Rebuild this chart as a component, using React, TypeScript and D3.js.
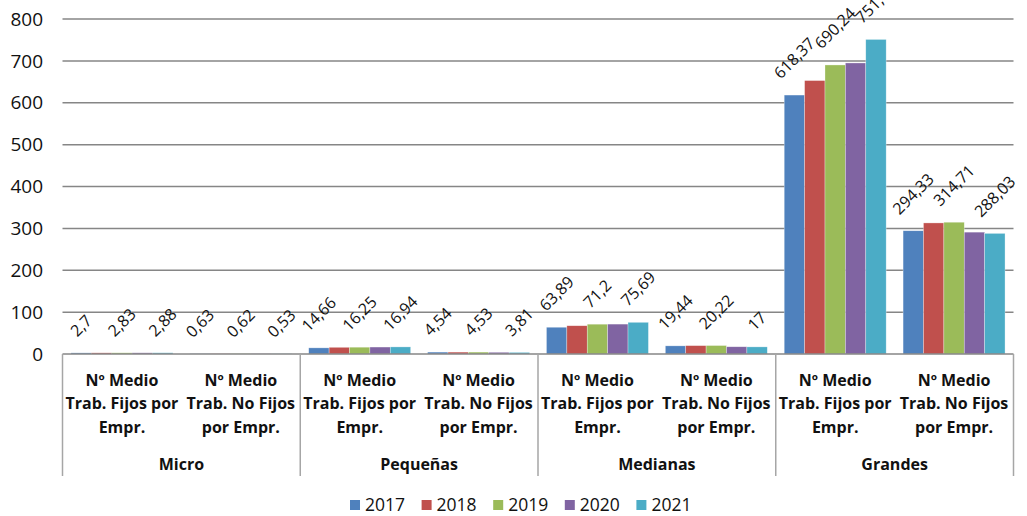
import { scaleBand, scaleLinear } from "d3";

const groups = ["Micro", "Pequeñas", "Medianas", "Grandes"];
const subLabels = [
  ["Nº Medio", "Trab. Fijos por", "Empr."],
  ["Nº Medio", "Trab. No Fijos", "por Empr."],
];
const years = ["2017", "2018", "2019", "2020", "2021"];
const colors = ["#4F81BD", "#C0504D", "#9BBB59", "#8064A2", "#4BACC6"];

// order: Micro F, Micro NF, Peq F, Peq NF, Med F, Med NF, Gra F, Gra NF
const v2017 = [2.7, 0.63, 14.66, 4.54, 63.89, 19.44, 618.37, 294.33];
const v2018 = [2.78, 0.62, 16.0, 4.5, 67.5, 20.0, 653, 313];
const v2019 = [2.83, 0.62, 16.25, 4.53, 71.2, 20.22, 690.24, 314.71];
const v2020 = [2.86, 0.58, 16.6, 4.1, 71.4, 17.3, 695, 291];
const v2021 = [2.88, 0.53, 16.94, 3.81, 75.69, 17, 751.18, 288.03];
const series = [v2017, v2018, v2019, v2020, v2021];
const labelledYears = [0, 2, 4];
const yTicks = [0, 100, 200, 300, 400, 500, 600, 700, 800];

const FONT = "'Open Sans', 'Noto Sans', sans-serif";

let ctx: CanvasRenderingContext2D | null = null;
function textWidth(s: string, size: number) {
  if (!ctx) ctx = document.createElement("canvas").getContext("2d");
  if (!ctx) return s.length * size * 0.55;
  ctx.font = `${size}px "Open Sans"`;
  return ctx.measureText(s).width;
}

const fmt = (v: number) => String(v).replace(".", ",");

export default function App() {
  const width = 1027;
  const height = 516;
  const left = 62.5;
  const right = 1013.5;
  const y = scaleLinear().domain([0, 800]).range([354, 19]);
  const xGroup = scaleBand<string>().domain(groups).range([left, right]);
  const xSub = scaleBand<number>().domain([0, 1]).range([0, xGroup.bandwidth()]);
  const xBar = scaleBand<string>()
    .domain(years)
    .range([0, xSub.bandwidth()])
    .paddingOuter(0.415);

  const labelSize = 16;

  return (
    <svg
      width={width}
      height={height}
      style={{ position: "absolute", left: 0, top: 0, background: "#fff" }}
      fontFamily={FONT}
    >
      {/* gridlines */}
      {yTicks.map((t) => (
        <g key={t}>
          {t > 0 && (
            <line x1={left} x2={right} y1={y(t)} y2={y(t)} stroke="#868686" strokeWidth={1.5} />
          )}
          <text x={43} y={y(t)} dy="0.35em" textAnchor="end" fontSize={19} fill="#111">
            {t}
          </text>
        </g>
      ))}

      {/* bars */}
      {groups.map((g, gi) =>
        [0, 1].map((si) => {
          const idx = gi * 2 + si;
          const x0 = (xGroup(g) ?? 0) + (xSub(si) ?? 0);
          return (
            <g key={`${g}-${si}`}>
              {years.map((yr, yi) => {
                const v = series[yi][idx];
                return (
                  <rect
                    key={yr}
                    x={x0 + (xBar(yr) ?? 0)}
                    y={y(v)}
                    width={xBar.bandwidth()}
                    height={y(0) - y(v)}
                    fill={colors[yi]}
                    stroke="#ffffff"
                    strokeOpacity={0.5}
                    strokeWidth={0.6}
                  />
                );
              })}
            </g>
          );
        })
      )}

      {/* baseline + separators */}
      <line x1={left} x2={right} y1={y(0)} y2={y(0)} stroke="#868686" strokeWidth={1.5} />
      {[...groups.map((g) => xGroup(g) ?? 0), right].map((x, i) => (
        <line key={i} x1={x} x2={x} y1={y(0)} y2={476} stroke="#a6a6a6" strokeWidth={1.5} />
      ))}

      {/* data labels */}
      {groups.map((g, gi) =>
        [0, 1].map((si) => {
          const idx = gi * 2 + si;
          const x0 = (xGroup(g) ?? 0) + (xSub(si) ?? 0);
          return labelledYears.map((yi) => {
            const v = series[yi][idx];
            const s = fmt(v);
            const w = textWidth(s, labelSize);
            const half = ((w + labelSize * 0.75) * 0.7071) / 2;
            const cx = x0 + (xBar(years[yi]) ?? 0) + xBar.bandwidth() / 2;
            const cy = y(v) - 15 - half;
            return (
              <text
                key={`${idx}-${yi}`}
                x={cx}
                y={cy}
                dy="0.35em"
                textAnchor="middle"
                fontSize={labelSize}
                fill="#111"
                transform={`rotate(-45 ${cx} ${cy})`}
              >
                {s}
              </text>
            );
          });
        })
      )}

      {/* category labels */}
      {groups.map((g) => {
        const gx = xGroup(g) ?? 0;
        return (
          <g key={g}>
            {[0, 1].map((si) => {
              const cx = gx + (xSub(si) ?? 0) + xSub.bandwidth() / 2;
              return subLabels[si].map((line, li) => (
                <text
                  key={`${si}-${li}`}
                  x={cx}
                  y={380 + li * 23.5}
                  dy="0.35em"
                  textAnchor="middle"
                  fontSize={16}
                  fontWeight="bold"
                  fill="#111"
                >
                  {line}
                </text>
              ));
            })}
            <text
              x={gx + xGroup.bandwidth() / 2}
              y={464}
              dy="0.35em"
              textAnchor="middle"
              fontSize={16}
              fontWeight="bold"
              fill="#111"
            >
              {g}
            </text>
          </g>
        );
      })}

      {/* legend */}
      {years.map((yr, i) => {
        const lx = 350 + i * 71.6;
        return (
          <g key={yr}>
            <rect x={lx} y={500} width={10} height={10} fill={colors[i]} />
            <text x={lx + 15} y={505} dy="0.35em" fontSize={17.5} fill="#111">
              {yr}
            </text>
          </g>
        );
      })}
    </svg>
  );
}
